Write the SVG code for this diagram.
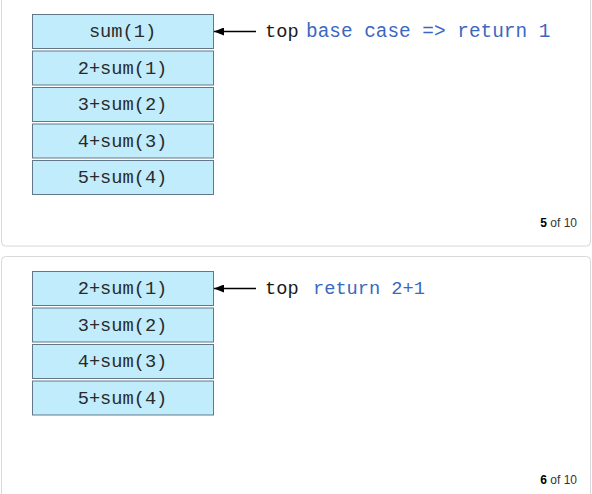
<svg xmlns="http://www.w3.org/2000/svg" width="592" height="494" viewBox="0 0 592 494">
<style>
.panel{fill:#fff;stroke:#d8d8d8;stroke-width:1}
.box{fill:#c0ecfb;stroke:#627888;stroke-width:1}
.lbl{font-family:"Liberation Mono","Courier New",monospace;font-size:18.67px;fill:#2a2a2a;text-anchor:middle}
.top{font-family:"Liberation Mono","Courier New",monospace;font-size:18.67px;fill:#1a1a1a}
.note{font-family:"Liberation Mono","Courier New",monospace;font-size:18.67px;fill:#3a68c0}
.big{font-size:19.4px}
.pg{font-family:"Liberation Sans",Arial,sans-serif;font-size:12px;fill:#333;text-anchor:end}
.pg tspan.b{font-weight:bold;fill:#000}
.conn{stroke:#000;stroke-width:1.3;fill:none}
</style>
<defs>
<marker id="ah" viewBox="0 0 10 8" refX="10" refY="4" markerWidth="10" markerHeight="8" markerUnits="userSpaceOnUse" orient="auto">
<path d="M0,0 L10,4 L0,8 z" fill="#000"/>
</marker>
</defs>
<rect class="panel" x="1.5" y="-10" width="589" height="256" rx="4"/>
<rect class="panel" x="1.5" y="256.5" width="589" height="260" rx="4"/>
<g id="p1-s1"><rect class="box" x="32.5" y="14.5" width="181" height="34"/><text class="lbl" x="122.5" y="37">sum(1)</text></g>
<g id="p1-s2"><rect class="box" x="32.5" y="51" width="181" height="34"/><text class="lbl" x="122.5" y="73.5">2+sum(1)</text></g>
<g id="p1-s3"><rect class="box" x="32.5" y="87.5" width="181" height="34"/><text class="lbl" x="122.5" y="110">3+sum(2)</text></g>
<g id="p1-s4"><rect class="box" x="32.5" y="124" width="181" height="34"/><text class="lbl" x="122.5" y="146.5">4+sum(3)</text></g>
<g id="p1-s5"><rect class="box" x="32.5" y="160.5" width="181" height="34"/><text class="lbl" x="122.5" y="183">5+sum(4)</text></g>
<g id="p1-top"><text class="top" x="265" y="37">top</text><text class="note big" x="306" y="37">base case =&gt; return 1</text></g>
<text class="pg" x="577" y="227"><tspan class="b">5</tspan> of 10</text>
<g id="p2-s1"><rect class="box" x="32.5" y="271.5" width="181" height="34"/><text class="lbl" x="122.5" y="294">2+sum(1)</text></g>
<g id="p2-s2"><rect class="box" x="32.5" y="308" width="181" height="34"/><text class="lbl" x="122.5" y="330.5">3+sum(2)</text></g>
<g id="p2-s3"><rect class="box" x="32.5" y="344.5" width="181" height="34"/><text class="lbl" x="122.5" y="367">4+sum(3)</text></g>
<g id="p2-s4"><rect class="box" x="32.5" y="381" width="181" height="34"/><text class="lbl" x="122.5" y="403.5">5+sum(4)</text></g>
<g id="p2-top"><text class="top" x="265" y="294">top</text><text class="note" x="313" y="294">return 2+1</text></g>
<text class="pg" x="577" y="484"><tspan class="b">6</tspan> of 10</text>
<g id="connectors">
<line class="conn" x1="256" y1="31.5" x2="214" y2="31.5" marker-end="url(#ah)"/>
<line class="conn" x1="256" y1="288.5" x2="214" y2="288.5" marker-end="url(#ah)"/>
</g>
</svg>
